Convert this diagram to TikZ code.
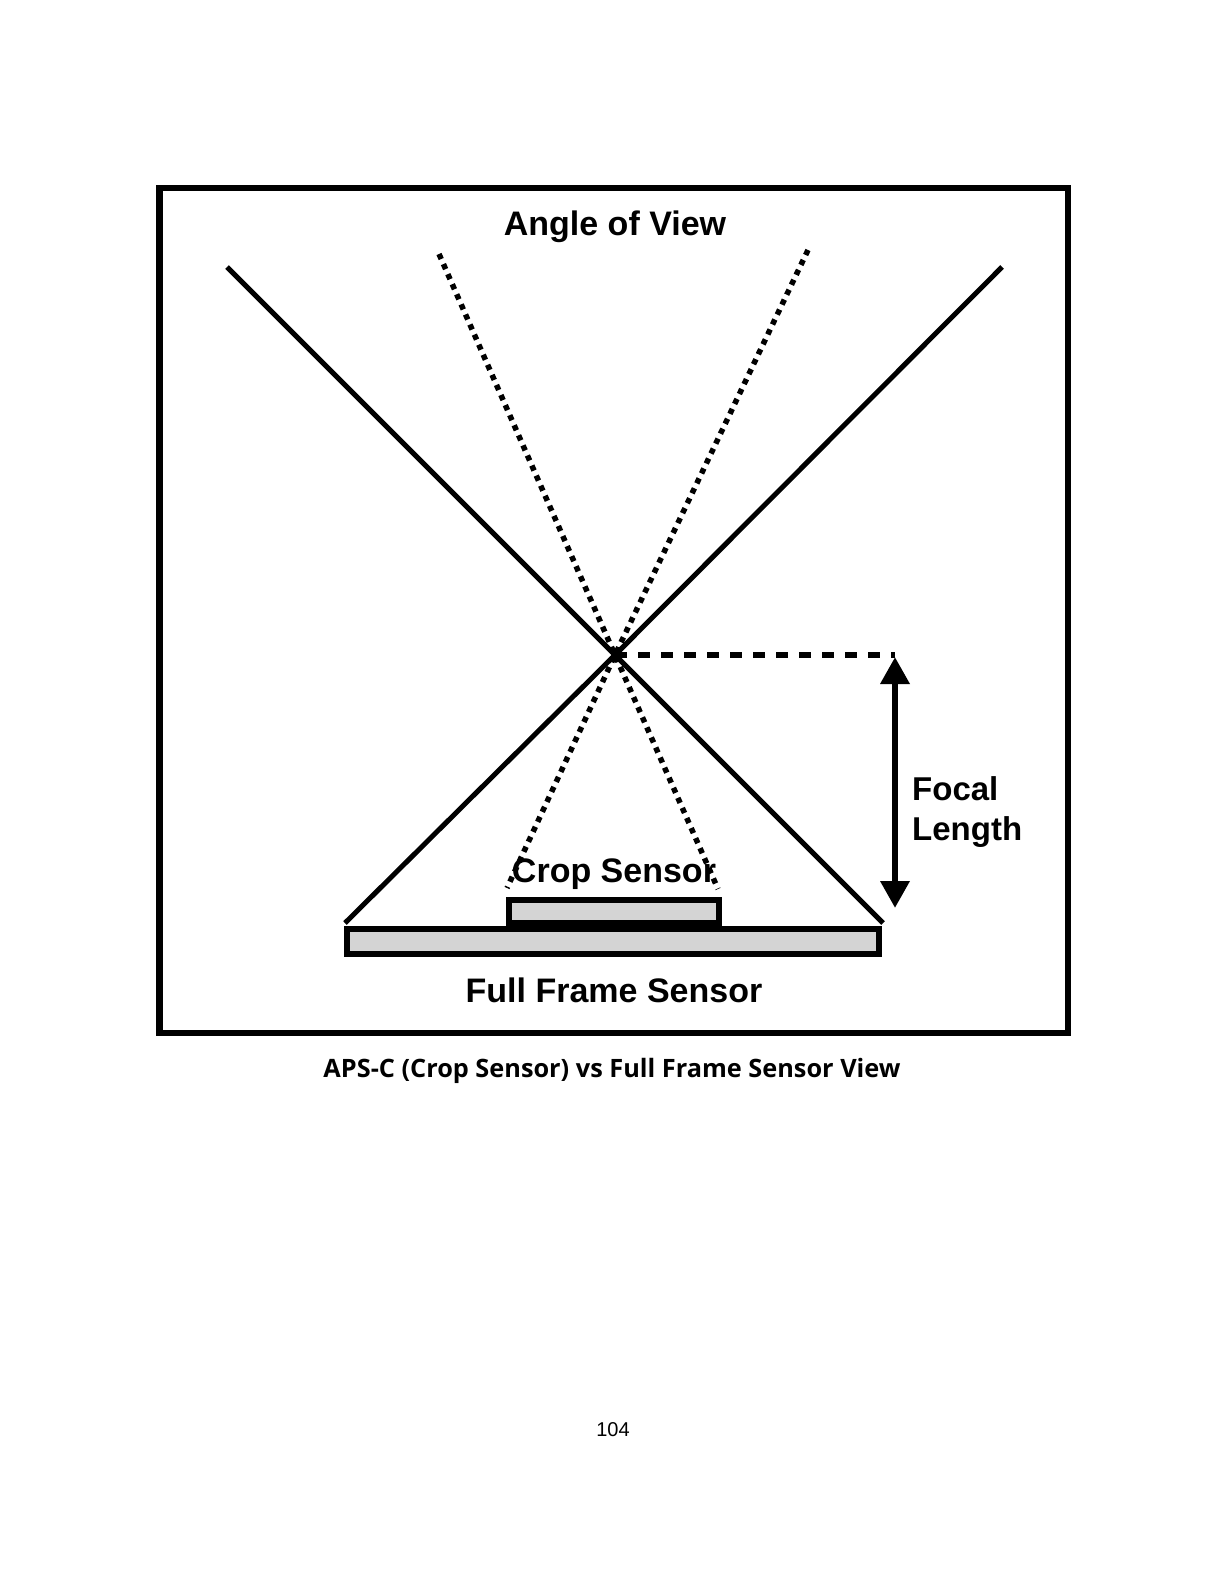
\documentclass[tikz,border=0pt]{standalone}
\usepackage{fontspec}
\setmainfont{Liberation Sans}
\newfontfamily\capfont{Open Sans}
\usetikzlibrary{arrows.meta}
\definecolor{sensorgray}{HTML}{D4D4D4}
\begin{document}
\begin{tikzpicture}[x=1pt,y=-1pt,
  solidray/.style={line width=5pt,line cap=butt},
  dotray/.style={line width=5.5pt,dash pattern=on 5.5pt off 5.5pt},
  focaldash/.style={line width=6.5pt,dash pattern=on 12pt off 11pt},
  sensorbox/.style={draw=black,line width=6pt,fill=sensorgray},
  bigtxt/.style={font=\fontsize{34}{40}\selectfont\bfseries,inner sep=0pt},
  captxt/.style={font=\capfont\fontsize{25.3}{28}\selectfont\bfseries,inner sep=0pt},
  pagetxt/.style={font=\fontsize{20}{24}\selectfont,inner sep=0pt}]
\useasboundingbox (0,0) rectangle (1224,1584);
% outer frame
\draw[line width=6.5pt] (159.5,188) rectangle (1068,1033);
% named points
\coordinate (O) at (615,655);
\coordinate (LT) at (227,267);
\coordinate (RT) at (1002,267);
\coordinate (LB) at (345,923);
\coordinate (RB) at (883,923);
\coordinate (dLT) at (439,254);
\coordinate (dRT) at (808,250);
\coordinate (dLB) at (507,888);
\coordinate (dRB) at (718,889);
\coordinate (dashEnd) at (895,655);
\coordinate (arrTop) at (895,657);
\coordinate (arrBot) at (895,908);
% sensors
\node[sensorbox,minimum width=532pt,minimum height=25pt,inner sep=0pt] (full) at (613,941.5) {};
\node[sensorbox,minimum width=210pt,minimum height=23pt,inner sep=0pt] (crop) at (614,911.5) {};
% rays
\draw[solidray] (LT) -- (O) -- (RB);
\draw[solidray] (RT) -- (O) -- (LB);
\draw[dotray] (dLT) -- (O) -- (dRB);
\draw[dotray] (dRT) -- (O) -- (dLB);
% focal length
\draw[focaldash] (O) -- (dashEnd);
\draw[line width=6.5pt,{Triangle[width=28pt,length=27pt]}-{Triangle[width=28pt,length=27pt]}] (arrTop) -- (arrBot);
% labels
\node[bigtxt,anchor=base] (aov) at (615,235) {Angle of View};
\node[bigtxt,anchor=base] (croplbl) at (614,882) {Crop Sensor};
\node[bigtxt,anchor=base] (fulllbl) at (614,1002) {Full Frame Sensor};
\node[bigtxt,anchor=base west,font=\fontsize{33}{40}\selectfont\bfseries] (focal) at (912,800) {Focal};
\node[bigtxt,anchor=base west,font=\fontsize{33}{40}\selectfont\bfseries] (length) at (912,840) {Length};
% caption and page number
\node[captxt,anchor=base] (caption) at (612,1077) {APS-C (Crop Sensor) vs Full Frame Sensor View};
\node[pagetxt,anchor=base] (pagenum) at (613,1436) {104};
\end{tikzpicture}
\end{document}
